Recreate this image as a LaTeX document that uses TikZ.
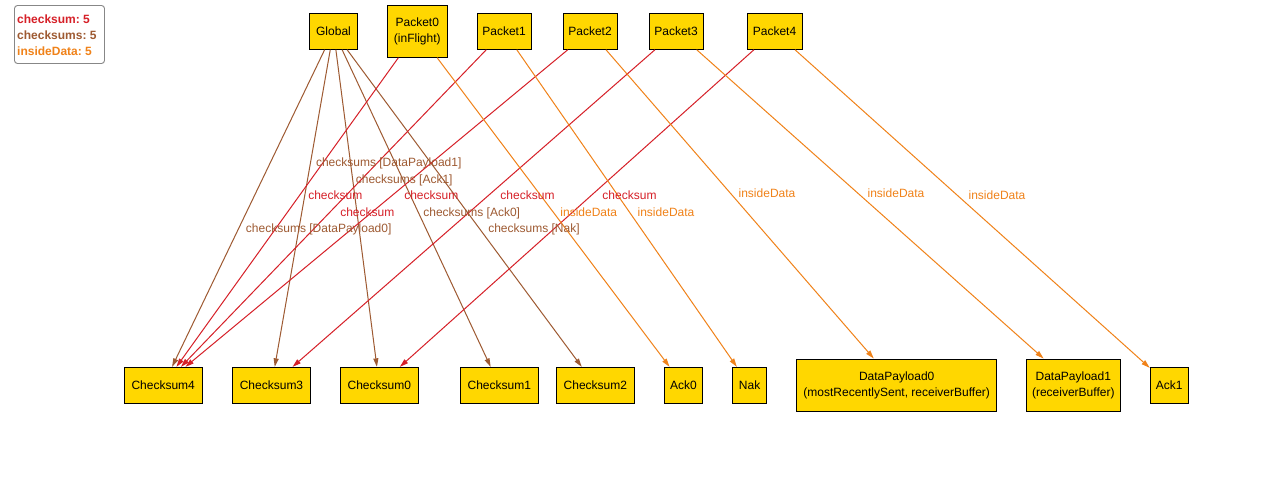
\documentclass[tikz,border=0pt]{standalone}
\usepackage{fontspec}
\setmainfont{Liberation Sans}
\usetikzlibrary{arrows.meta}
\frenchspacing

\definecolor{nodegold}{RGB}{255,215,0}
\definecolor{cred}{RGB}{214,32,40}
\definecolor{cbrown}{RGB}{158,90,50}
\definecolor{corange}{RGB}{240,130,25}
\definecolor{legendframe}{RGB}{135,135,135}

\begin{document}
\begin{tikzpicture}[x=1pt,y=-1pt,
  box/.style={draw=black, line width=0.9pt, fill=nodegold, inner sep=0pt,
              align=center, minimum height=36pt, font=\fontsize{12}{16}\selectfont},
  edgebase/.style={line width=1pt, -{Triangle[length=8.5pt,width=5pt]}},
  chk/.style={edgebase, cred},
  chks/.style={edgebase, cbrown},
  inside/.style={edgebase, corange},
  lbl/.style={font=\fontsize{12}{14}\selectfont, inner sep=0pt, anchor=base},
  legendtext/.style={font=\fontsize{12}{14}\selectfont\bfseries, inner sep=0pt, anchor=base west}]

\useasboundingbox (0,0) rectangle (1288,500);
\fill[white] (0,0) rectangle (1288,500);

% legend
\draw[legendframe, line width=0.9pt, rounded corners=3pt] (14.5,5.5) rectangle (104.5,63.5);
\node[legendtext, text=cred]    (legA) at (17,23.3) {checksum: 5};
\node[legendtext, text=cbrown]  (legB) at (17,39.3) {checksums: 5};
\node[legendtext, text=corange] (legC) at (17,55.3) {insideData: 5};

% top row
\node[box, minimum width=48.4pt] (Global) at (333.5,31.3) {Global};
\node[box, minimum width=60pt, minimum height=52pt] (Packet0) at (417.3,31.3) {Packet0\\(inFlight)};
\node[box, minimum width=54pt] (Packet1) at (504,31.3) {Packet1};
\node[box, minimum width=54pt] (Packet2) at (590,31.3) {Packet2};
\node[box, minimum width=54pt] (Packet3) at (676,31.3) {Packet3};
\node[box, minimum width=55pt] (Packet4) at (774.5,31.3) {Packet4};

% bottom row
\node[box, minimum width=78pt] (Checksum4) at (163.2,385.3) {Checksum4};
\node[box, minimum width=78pt] (Checksum3) at (271.5,385.3) {Checksum3};
\node[box, minimum width=78pt] (Checksum0) at (379.3,385.3) {Checksum0};
\node[box, minimum width=78pt] (Checksum1) at (499.3,385.3) {Checksum1};
\node[box, minimum width=78pt] (Checksum2) at (595.4,385.3) {Checksum2};
\node[box, minimum width=38pt] (Ack0) at (683.4,385.3) {Ack0};
\node[box, minimum width=34pt] (Nak) at (749.6,385.3) {Nak};
\node[box, minimum width=200pt, minimum height=52pt] (DataPayload0) at (896.7,385) {DataPayload0\\(mostRecentlySent, receiverBuffer)};
\node[box, minimum width=94.7pt, minimum height=52pt] (DataPayload1) at (1073.3,385) {DataPayload1\\(receiverBuffer)};
\node[box, minimum width=38pt] (Ack1) at (1169.2,385.3) {Ack1};

% checksums (Global)
\draw[chks] (Global) -- (Checksum4);
\draw[chks] (Global) -- (Checksum3);
\draw[chks] (Global) -- (Checksum0);
\draw[chks] (Global) -- (Checksum1);
\draw[chks] (Global) -- (Checksum2);

% checksum (packets)
\draw[chk] (Packet0) -- (Checksum4);
\draw[chk] (Packet1) -- (Checksum4);
\draw[chk] (Packet2) -- (Checksum4);
\draw[chk] (Packet3) -- (Checksum3);
\draw[chk] (Packet4) -- (Checksum0);

% insideData (packets)
\draw[inside] (Packet0) -- (Ack0);
\draw[inside] (Packet1) -- (Nak);
\draw[inside] (Packet2) -- (DataPayload0);
\draw[inside] (Packet3) -- (DataPayload1);
\draw[inside] (Packet4) -- (Ack1);

% edge labels
\node[lbl, text=cbrown] (lDP1) at (388.7,166.6) {checksums [DataPayload1]};
\node[lbl, text=cbrown] (lAck1) at (404.2,183.6) {checksums [Ack1]};
\node[lbl, text=cred] (lc1) at (335.3,200) {checksum};
\node[lbl, text=cred] (lc2) at (431.3,200) {checksum};
\node[lbl, text=cred] (lc3) at (527.5,200) {checksum};
\node[lbl, text=cred] (lc4) at (629.5,200) {checksum};
\node[lbl, text=cred] (lc5) at (367.3,216) {checksum};
\node[lbl, text=cbrown] (lAck0) at (471.7,216) {checksums [Ack0]};
\node[lbl, text=cbrown] (lDP0) at (318.7,232.6) {checksums [DataPayload0]};
\node[lbl, text=cbrown] (lNak) at (534,232.6) {checksums [Nak]};
\node[lbl, text=corange] (li1) at (588.8,216) {insideData};
\node[lbl, text=corange] (li2) at (666,216) {insideData};
\node[lbl, text=corange] (li3) at (767,197) {insideData};
\node[lbl, text=corange] (li4) at (896,197) {insideData};
\node[lbl, text=corange] (li5) at (997,200) {insideData};

\end{tikzpicture}
\end{document}
